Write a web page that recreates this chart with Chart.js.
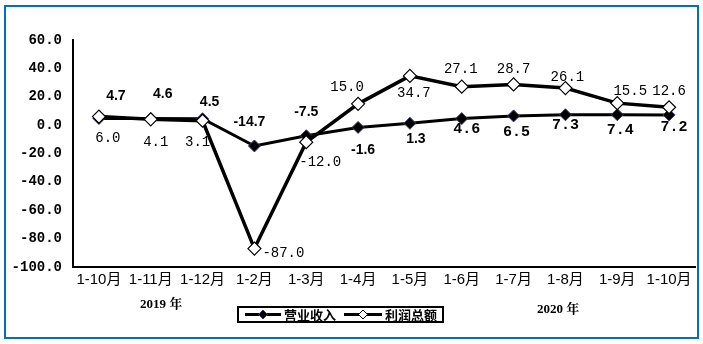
<!DOCTYPE html>
<html>
<head>
<meta charset="utf-8">
<script src="https://cdn.jsdelivr.net/npm/chart.js@4/dist/chart.umd.min.js"></script>
<style>
  html, body { margin: 0; padding: 0; background: #ffffff; }
  #wrap { position: relative; width: 703px; height: 344px; }
</style>
</head>
<body>
<div id="wrap"><canvas id="c" width="703" height="344"></canvas></div>
<script>
// ---- data ----
const categories = ['1-10月', '1-11月', '1-12月', '1-2月', '1-3月', '1-4月', '1-5月', '1-6月', '1-7月', '1-8月', '1-9月', '1-10月'];
const seriesNames = ['营业收入', '利润总额'];
const revenue = [4.7, 4.6, 4.5, -14.7, -7.5, -1.6, 1.3, 4.6, 6.5, 7.3, 7.4, 7.2];
const profit = [6.0, 4.1, 3.1, -87.0, -12.0, 15.0, 34.7, 27.1, 28.7, 26.1, 15.5, 12.6];
const yearLabels = ['2019 年', '2020 年'];
const yMin = -100, yMax = 60, yStep = 20;

// ---- label placement (pixel offsets from each point) ----
const revenueLabelOffsets = [[17,-22],[12,-24],[7,-17],[-5,-24],[0,-24],[5,23],[6,16],[5,11],[3,16],[0,10],[3,16],[5,12]];
const revenueLabelStyle = [0,0,0,0,0,0,0,1,1,1,1,1];
const profitLabelOffsets = [[9,22],[5,23],[-5,22],[29,5],[14,20],[-11,-17],[4,17],[-1,-17],[0,-15],[2,-11],[13,-12],[0,-16]];

const monoFont = '"Liberation Mono", "DejaVu Sans Mono", monospace';
const sansFont = '"Liberation Sans", Arial, "Noto Sans CJK SC", sans-serif';
const cjkFont = '"Noto Sans CJK SC", sans-serif';

const overlay = {
  id: 'overlay',
  afterDatasetsDraw(chart) {
    const ctx = chart.ctx;
    ctx.save();
    ctx.textAlign = 'center';
    ctx.textBaseline = 'middle';
    ctx.fillStyle = '#000';
    // revenue labels
    const m0 = chart.getDatasetMeta(0);
    m0.data.forEach((el, i) => {
      const v = revenue[i];
      const o = revenueLabelOffsets[i];
      ctx.font = revenueLabelStyle[i] === 0 ? 'bold 14px ' + sansFont : 'bold 15px ' + monoFont;
      ctx.fillText(v.toFixed(1), el.x + o[0], el.y + o[1]);
    });
    // profit labels
    const m1 = chart.getDatasetMeta(1);
    ctx.font = '14px ' + monoFont;
    m1.data.forEach((el, i) => {
      const v = profit[i];
      const o = profitLabelOffsets[i];
      ctx.fillText(v.toFixed(1), el.x + o[0], el.y + o[1]);
    });
    ctx.restore();
  },
  afterDraw(chart) {
    const ctx = chart.ctx;
    ctx.save();
    // outer blue frame
    ctx.strokeStyle = '#0070C0';
    ctx.lineWidth = 2;
    ctx.strokeRect(5, 6, 693, 332);

    // year labels
    ctx.fillStyle = '#000';
    ctx.textBaseline = 'middle';
    ctx.textAlign = 'center';
    ctx.font = 'bold 13px "Liberation Serif", "Noto Serif CJK SC", "Noto Sans CJK SC", serif';
    ctx.fillText(yearLabels[0], 161, 305);
    ctx.fillText(yearLabels[1], 558, 310);

    // legend
    const ds = chart.data.datasets;
    ctx.strokeStyle = '#000';
    ctx.lineWidth = 2;
    ctx.strokeRect(238, 307, 205, 15);
    const ly = 314.5;
    const items = [
      { x0: 245, x1: 281, dx: 263, tx: 284 },
      { x0: 344, x1: 382, dx: 363, tx: 385 }
    ];
    items.forEach((it, k) => {
      const d = ds[k];
      ctx.beginPath();
      ctx.strokeStyle = '#000';
      ctx.lineWidth = 3;
      ctx.moveTo(it.x0, ly);
      ctx.lineTo(it.x1, ly);
      ctx.stroke();
      ctx.beginPath();
      const r = 4.5;
      ctx.moveTo(it.dx, ly - r);
      ctx.lineTo(it.dx + r, ly);
      ctx.lineTo(it.dx, ly + r);
      ctx.lineTo(it.dx - r, ly);
      ctx.closePath();
      ctx.fillStyle = d.pointBackgroundColor;
      ctx.fill();
      ctx.lineWidth = 1;
      ctx.strokeStyle = d.pointBorderColor;
      ctx.stroke();
      ctx.fillStyle = '#000';
      ctx.textAlign = 'left';
      ctx.font = 'bold 13px ' + cjkFont;
      ctx.fillText(d.label, it.tx, ly + 0.5);
    });
    ctx.restore();
  }
};

new Chart(document.getElementById('c'), {
  type: 'line',
  data: {
    labels: categories,
    datasets: [
      {
        label: seriesNames[0],
        data: revenue,
        borderColor: '#000',
        borderWidth: 3,
        pointStyle: 'rectRot',
        pointRadius: 6,
        pointBackgroundColor: '#000',
        pointBorderColor: '#3a3a6a',
        pointBorderWidth: 1,
        tension: 0,
        order: 1
      },
      {
        label: seriesNames[1],
        data: profit,
        borderColor: '#000',
        borderWidth: 3.5,
        pointStyle: 'rectRot',
        pointRadius: 6.5,
        pointBackgroundColor: '#fff',
        pointBorderColor: '#000',
        pointBorderWidth: 1.2,
        tension: 0,
        order: 0
      }
    ]
  },
  options: {
    responsive: false,
    devicePixelRatio: 1,
    animation: false,
    layout: { padding: { left: 0, right: 8, top: 40, bottom: 0 } },
    plugins: { legend: { display: false }, tooltip: { enabled: false } },
    scales: {
      x: {
        type: 'category',
        offset: true,
        grid: { display: false },
        border: { display: true, color: '#000', width: 2 },
        ticks: {
          color: '#000',
          padding: -4,
          maxRotation: 0,
          autoSkip: false,
          font: { family: sansFont, size: 15 }
        },
        afterFit(scale) { scale.height = 77; }
      },
      y: {
        min: yMin,
        max: yMax,
        grid: { display: false },
        border: { display: true, color: '#000', width: 2 },
        ticks: {
          stepSize: yStep,
          color: '#000',
          padding: 3,
          font: { family: monoFont, size: 14, weight: 'bold' },
          callback: (v) => Number(v).toFixed(1)
        },
        afterFit(scale) { scale.width = 73; }
      }
    }
  },
  plugins: [overlay]
});
</script>
</body>
</html>
